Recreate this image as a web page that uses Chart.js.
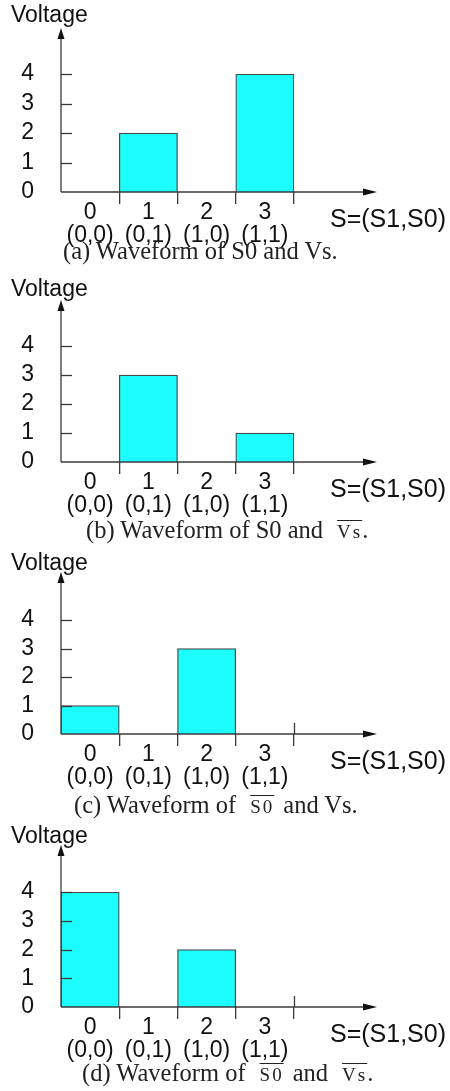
<!DOCTYPE html>
<html>
<head>
<meta charset="utf-8">
<script src="https://cdn.jsdelivr.net/npm/chart.js@4.4.1/dist/chart.umd.min.js"></script>
<style>
  body { margin: 0; background: #fff; width: 450px; height: 1091px; position: relative; overflow: hidden; }
  .panel { position: absolute; left: 0; width: 450px; height: 270px; }
  .panel canvas { position: absolute; left: 0; top: 0; }
  .txt { position: absolute; font-family: "Liberation Sans", Arial, sans-serif; font-size: 23px; line-height: 24px; color: #111; white-space: nowrap; }
  .cap { position: absolute; font-family: "Liberation Serif", "Times New Roman", serif; font-size: 24.5px; line-height: 24px; color: #222; white-space: nowrap; }
  .ov { font-size: 19px; letter-spacing: 2px; text-decoration: overline; text-decoration-thickness: 1px; margin: 0 9px 0 14px; }
  .ov.end { margin-right: 0; }
</style>
</head>
<body>
<div id="panels"></div>
<script>
// category labels along S
const categories = ["0", "1", "2", "3"];
const codes = ["(0,0)", "(0,1)", "(1,0)", "(1,1)"];
const yTicks = [0, 1, 2, 3, 4];

// voltage per state for each waveform
const valuesA = [0, 2, 0, 4];
const valuesB = [0, 3, 0, 1];
const valuesC = [1, 0, 3, 0];
const valuesD = [4, 0, 2, 0];

const captions = [
  '(a) Waveform of S0 and Vs.',
  '(b) Waveform of S0 and<span class="ov end">Vs</span>.',
  '(c) Waveform of<span class="ov">S0</span>and Vs.',
  '(d) Waveform of<span class="ov">S0</span>and<span class="ov end">Vs</span>.'
];

const panels = [
  { values: valuesA, top: 0,   chartTop: 74, arrowTop: 28, voltY: 14, capY: 251, capX: 63, cross: [] },
  { values: valuesB, top: 270, chartTop: 76, arrowTop: 30, voltY: 18, capY: 260, capX: 86, cross: [] },
  { values: valuesC, top: 542, chartTop: 78, arrowTop: 30, voltY: 20, capY: 263, capX: 74, cross: [3] },
  { values: valuesD, top: 815, chartTop: 77, arrowTop: 30, voltY: 20, capY: 258, capX: 82, cross: [3] }
];

const AXIS = '#3a3a3a';
const ZERO_Y = 192;
const PANEL_H = 270;

// draws the arrowed axes and the little tick marks that sit inside the plot
const axesArrows = {
  id: 'axesArrows',
  afterDatasetsDraw(chart, args, opts) {
    const { ctx, chartArea } = chart;
    const { left, bottom } = chartArea;
    const x = chart.scales.x, y = chart.scales.y;
    ctx.save();
    ctx.strokeStyle = AXIS;
    ctx.fillStyle = '#111';
    ctx.lineWidth = 1.3;

    // y axis + arrow
    ctx.beginPath();
    ctx.moveTo(left, bottom);
    ctx.lineTo(left, opts.arrowTop + 8);
    ctx.stroke();
    ctx.beginPath();
    ctx.moveTo(left, opts.arrowTop);
    ctx.lineTo(left - 3.5, opts.arrowTop + 11);
    ctx.lineTo(left + 3.5, opts.arrowTop + 11);
    ctx.closePath();
    ctx.fill();

    // x axis + arrow
    const xEnd = 377;
    ctx.beginPath();
    ctx.moveTo(left, bottom);
    ctx.lineTo(xEnd - 10, bottom);
    ctx.stroke();
    ctx.beginPath();
    ctx.moveTo(xEnd, bottom);
    ctx.lineTo(xEnd - 14, bottom - 3.5);
    ctx.lineTo(xEnd - 14, bottom + 3.5);
    ctx.closePath();
    ctx.fill();

    // y tick marks pointing into the plot
    yTicks.forEach(v => {
      if (v === 0) return;
      const py = Math.round(y.getPixelForValue(v)) + 0.5;
      ctx.beginPath();
      ctx.moveTo(left, py);
      ctx.lineTo(left + 11, py);
      ctx.stroke();
    });

    // boundary marks that cross the axis where no bar is drawn
    const half = (x.getPixelForValue(1) - x.getPixelForValue(0)) / 2;
    (opts.cross || []).forEach(i => {
      const px = Math.round(x.getPixelForValue(i) + half) + 0.5;
      ctx.beginPath();
      ctx.moveTo(px, bottom - 11);
      ctx.lineTo(px, bottom);
      ctx.stroke();
    });
    ctx.restore();
  }
};

const holder = document.getElementById('panels');

panels.forEach((p, k) => {
  const div = document.createElement('div');
  div.className = 'panel';
  div.style.top = p.top + 'px';
  div.innerHTML =
    '<canvas width="450" height="' + PANEL_H + '"></canvas>' +
    '<div class="txt" style="left:11px;top:' + (p.voltY - 12) + 'px">Voltage</div>' +
    '<div class="txt" style="left:330px;font-size:25px;top:' + (ZERO_Y + 14) + 'px">S=(S1,S0)</div>' +
    '<div class="cap" style="left:' + p.capX + 'px;top:' + (p.capY - 12) + 'px">' + captions[k] + '</div>';
  holder.appendChild(div);

  const canvas = div.querySelector('canvas');
  new Chart(canvas, {
    type: 'bar',
    data: {
      labels: categories.map((c, i) => [c, codes[i]]),
      datasets: [{
        data: p.values,
        backgroundColor: '#1cfdfd',
        borderColor: '#4a4a4a',
        borderWidth: 1.3,
        borderSkipped: 'bottom',
        barPercentage: 1,
        categoryPercentage: 1
      }]
    },
    options: {
      responsive: false,
      animation: false,
      events: [],
      layout: { padding: { top: p.chartTop, right: 450 - 294, left: 0, bottom: 0 } },
      plugins: {
        legend: { display: false },
        tooltip: { enabled: false },
        axesArrows: { arrowTop: p.arrowTop, cross: p.cross }
      },
      scales: {
        x: {
          type: 'category',
          offset: true,
          border: { display: false },
          grid: {
            offset: true,
            drawOnChartArea: false,
            drawTicks: true,
            tickLength: 12,
            lineWidth: 1.3,
            color: ctx => ctx.index === 0 ? 'rgba(0,0,0,0)' : AXIS
          },
          ticks: {
            color: '#111',
            padding: -3,
            maxRotation: 0,
            autoSkip: false,
            font: { family: '"Liberation Sans", Arial, sans-serif', size: 23, lineHeight: 1 }
          },
          afterFit: s => { s.height = PANEL_H - ZERO_Y; }
        },
        y: {
          min: 0,
          max: 4,
          border: { display: false },
          grid: { display: false },
          afterBuildTicks: s => { s.ticks = yTicks.map(v => ({ value: v })); },
          ticks: {
            color: '#111',
            padding: 19,
            autoSkip: false,
            font: { family: '"Liberation Sans", Arial, sans-serif', size: 23 }
          },
          afterFit: s => { s.width = 61; }
        }
      }
    },
    plugins: [axesArrows]
  });
});
</script>
</body>
</html>
